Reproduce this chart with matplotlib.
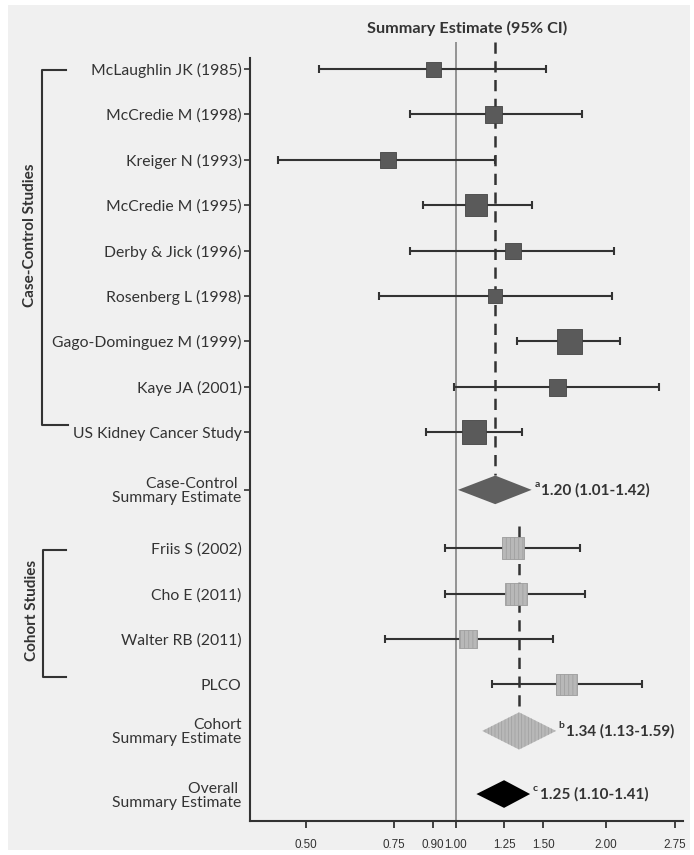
import matplotlib

matplotlib.use("Agg")
import matplotlib.pyplot as plt
from matplotlib.patches import Rectangle
from matplotlib.transforms import ScaledTranslation, blended_transform_factory

plt.rcParams["font.family"] = ["Lato", "DejaVu Sans"]
plt.rcParams["hatch.linewidth"] = 0.5

# 病例对照研究
cc_studies = [
    "McLaughlin JK (1985)",
    "McCredie M (1998)",
    "Kreiger N (1993)",
    "McCredie M (1995)",
    "Derby & Jick (1996)",
    "Rosenberg L (1998)",
    "Gago-Dominguez M (1999)",
    "Kaye JA (2001)",
    "US Kidney Cancer Study",
]
cc_est = [0.90, 1.19, 0.73, 1.10, 1.30, 1.20, 1.69, 1.60, 1.09]
cc_lo = [0.53, 0.81, 0.44, 0.86, 0.81, 0.70, 1.33, 0.99, 0.87]
cc_hi = [1.52, 1.79, 1.20, 1.42, 2.08, 2.06, 2.14, 2.56, 1.36]
cc_box = [15, 17, 16, 22, 16, 14.5, 25, 17, 24]  # 方块边长(px), 代表权重

# 队列研究
co_studies = ["Friis S (2002)", "Cho E (2011)", "Walter RB (2011)", "PLCO"]
co_est = [1.30, 1.32, 1.06, 1.67]
co_lo = [0.95, 0.95, 0.72, 1.18]
co_hi = [1.78, 1.82, 1.57, 2.37]
co_box = [22, 22, 18, 21]

# 汇总估计 (est, lo, hi)
cc_summary = (1.20, 1.01, 1.42)
co_summary = (1.34, 1.13, 1.59)
all_summary = (1.25, 1.10, 1.41)
summary_text = ["1.20 (1.01-1.42)", "1.34 (1.13-1.59)", "1.25 (1.10-1.41)"]
summary_sup = ["a", "b", "c"]

x_ticks = [0.50, 0.75, 0.90, 1.00, 1.25, 1.50, 2.00, 2.75]
x_ticklabels = ["0.50", "0.75", "0.90", "1.00", "1.25", "1.50", "2.00", "2.75"]

# 行位置 (布局)
cc_rows = list(range(9))
cc_sum_row = 9.27
co_rows = [10.55, 11.56, 12.56, 13.55]
co_sum_row = 14.58
all_sum_row = 15.97

W, H = 694, 855
fig = plt.figure(figsize=(W / 100, H / 100), dpi=100, facecolor="white")
fig.patches.append(Rectangle((8 / W, 5 / H), 682 / W, 845 / H, transform=fig.transFigure,
                             facecolor="#f0f0f0", edgecolor="none", zorder=-10))
ax = fig.add_axes([250 / W, 1 - 821 / H, 433 / W, (821 - 42) / H])
ax.set_facecolor("none")

dark = "#333333"
ax.set_xscale("log")
ax.set_xlim(0.386, 2.86)
ax.set_ylim(16.564, -0.595)

# 参考线
ax.plot([1.0, 1.0], [-0.595, 16.564], color="#8c8c8c", lw=1.3, zorder=1)
ax.plot([cc_summary[0]] * 2, [-0.595, cc_sum_row - 0.32], color=dark, lw=1.8,
        dashes=(4.5, 3), zorder=2)
ax.plot([co_summary[0]] * 2, [10.06, co_sum_row - 0.41], color=dark, lw=1.8,
        dashes=(4.5, 3), zorder=2)

px2pt = 0.72


def draw_studies(rows, est, lo, hi, box, face, edge, hatch=None):
    for y, e, l, h, b in zip(rows, est, lo, hi, box):
        ax.errorbar(e, y, xerr=[[e - l], [h - e]], fmt="none", ecolor=dark,
                    elinewidth=1.5, capsize=3, capthick=1.5, zorder=3)
        ax.scatter([e], [y], marker="s", s=(b * px2pt) ** 2, facecolor=face,
                   edgecolor=edge, linewidth=0.6, hatch=hatch, zorder=4)


draw_studies(cc_rows, cc_est, cc_lo, cc_hi, cc_box, "#5a5a5a", "#444444")
draw_studies(co_rows, co_est, co_lo, co_hi, co_box, "#b8b8b8", "#9c9c9c", hatch="||||")


def draw_diamond(summary, y, half, face, edge, hatch=None):
    e, l, h = summary
    ax.fill([l, e, h, e], [y, y - half, y, y + half], facecolor=face,
            edgecolor=edge, linewidth=0, hatch=hatch, zorder=4)


draw_diamond(cc_summary, cc_sum_row, 0.315, "#5f5f5f", "#5f5f5f")
draw_diamond(co_summary, co_sum_row, 0.41, "#b8b8b8", "#a0a0a0", hatch="|||||")
draw_diamond(all_summary, all_sum_row, 0.305, "#000000", "#000000")

for summary, y, txt, sup in zip([cc_summary, co_summary, all_summary],
                                [cc_sum_row, co_sum_row, all_sum_row],
                                summary_text, summary_sup):
    ax.annotate(sup, xy=(summary[2], y), xytext=(2, 4), textcoords="offset points",
                fontsize=7.5, fontweight="bold", color=dark, va="center", ha="left")
    ax.annotate(txt, xy=(summary[2], y), xytext=(7, 0), textcoords="offset points",
                fontsize=11, fontweight="bold", color=dark, va="center", ha="left")

# 坐标轴
y_pos = cc_rows + [cc_sum_row] + co_rows + [co_sum_row, all_sum_row]
y_labels = cc_studies + ["Case-Control \nSummary Estimate"] + co_studies + \
    ["Cohort\nSummary Estimate", "Overall \nSummary Estimate"]
ax.set_yticks(y_pos)
ax.set_yticklabels(y_labels, fontsize=11.3, color=dark, linespacing=1.0)
for i, t in enumerate(ax.yaxis.get_major_ticks()):
    if i > 9:
        t.tick1line.set_visible(False)

ax.set_xticks(x_ticks)
xlabels = ax.set_xticklabels(x_ticklabels, fontsize=8.4, color=dark,
                             family=["Liberation Sans Narrow", "Liberation Sans", "DejaVu Sans"])
# 0.90 和 1.00 太近, 稍微分开
for lab, dx in [(xlabels[2], -1.5), (xlabels[3], 1.5)]:
    lab.set_transform(lab.get_transform() + ScaledTranslation(dx / 72, 0, fig.dpi_scale_trans))
ax.xaxis.set_minor_locator(matplotlib.ticker.NullLocator())
ax.tick_params(axis="x", length=5, width=1.3, color=dark, pad=8)
ax.tick_params(axis="y", length=4, width=1.2, color=dark, pad=2)

for side in ["top", "right"]:
    ax.spines[side].set_visible(False)
for side in ["left", "bottom"]:
    ax.spines[side].set_color(dark)
    ax.spines[side].set_linewidth(1.5)
ax.spines["left"].set_bounds(-0.24, 16.564)

# 分组括号
tr = blended_transform_factory(fig.transFigure, ax.transData)
ax.plot([66 / W, 42 / W, 42 / W, 68 / W], [0.02, 0.02, 7.84, 7.84], color=dark,
        lw=1.5, transform=tr, clip_on=False)
ax.plot([66 / W, 43 / W, 43 / W, 66 / W], [10.6, 10.6, 13.39, 13.39], color=dark,
        lw=1.5, transform=tr, clip_on=False)
ax.text(30 / W, 3.66, "Case-Control Studies", transform=tr, rotation=90,
        fontsize=11, fontweight="bold", color=dark, ha="center", va="center")
ax.text(32 / W, 11.92, "Cohort Studies", transform=tr, rotation=90,
        fontsize=11, fontweight="bold", color=dark, ha="center", va="center")

fig.text(466.7 / W, 1 - 28 / H, "Summary Estimate (95% CI)", fontsize=11.7,
         fontweight="bold", color=dark, ha="center", va="center")

fig.savefig("out.png", dpi=100, facecolor=fig.get_facecolor())
